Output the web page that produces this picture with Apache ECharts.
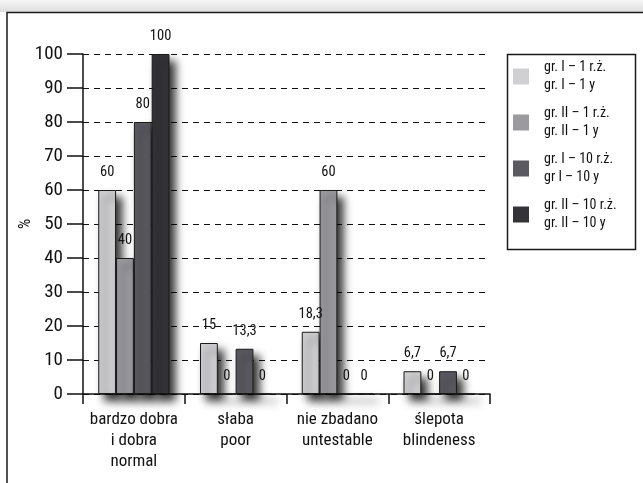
<!DOCTYPE html>
<html>
<head>
<meta charset="utf-8">
<script src="https://cdn.jsdelivr.net/npm/echarts@6/dist/echarts.min.js"></script>
<style>
  html, body { margin: 0; padding: 0; background: #fff; }
  #chart { width: 643px; height: 483px; }
</style>
</head>
<body>
<div id="chart"></div>
<script>
// Visual acuity outcome by group and follow-up time (%)
const categories = [
  'bardzo dobra\ni dobra\nnormal',
  'słaba\npoor',
  'nie zbadano\nuntestable',
  'ślepota\nblindeness'
];
const seriesNames = [
  'gr. I – 1 r.ż.\ngr. I – 1 y',
  'gr. II – 1 r.ż.\ngr. II – 1 y',
  'gr. I – 10 r.ż.\ngr I – 10 y',
  'gr. II – 10 r.ż.\ngr. II – 10 y'
];
const grI_1y   = [60, 15, 18.3, 6.7];
const grII_1y  = [40, 0, 60, 0];
const grI_10y  = [80, 13.3, 0, 6.7];
const grII_10y = [100, 0, 0, 0];
const yMin = 0, yMax = 100, yStep = 10;

const seriesData = [grI_1y, grII_1y, grI_10y, grII_10y];
const barColors = ['#d0d0d2', '#9b9a9f', '#5b5a60', '#343337'];
const FONT = '"Roboto Condensed", "DejaVu Sans Condensed", sans-serif';

const chart = echarts.init(document.getElementById('chart'), null, { renderer: 'canvas' });

const series = seriesData.map((data, i) => ({
  name: seriesNames[i],
  type: 'bar',
  data: data,
  barGap: '0%',
  barCategoryGap: '30%',
  itemStyle: {
    color: barColors[i],
    borderColor: '#1a1a1a',
    borderWidth: 1,
    shadowColor: 'rgba(0,0,0,0.8)',
    shadowBlur: 9,
    shadowOffsetX: 6,
    shadowOffsetY: 7
  },
  label: {
    show: true,
    position: 'top',
    distance: 10,
    fontFamily: FONT,
    fontSize: 14.5,
    color: '#111',
    formatter: p => String(p.value).replace('.', ',')
  },
  emphasis: { disabled: true }
}));

chart.setOption({
  animation: false,
  backgroundColor: '#fff',
  textStyle: { fontFamily: FONT },
  grid: { left: 83, right: 153, top: 54, bottom: 89, containLabel: false, outerBoundsMode: 'none' },
  legend: {
    orient: 'vertical',
    left: 513,
    top: 50,
    padding: 0,
    itemWidth: 16,
    itemHeight: 16,
    itemGap: -7,
    icon: 'rect',
    selectedMode: false,
    itemStyle: { borderWidth: 0, shadowBlur: 0, shadowColor: 'rgba(0,0,0,0)' },
    textStyle: {
      fontFamily: FONT,
      fontSize: 14,
      lineHeight: 18,
      color: '#111',
      padding: [17, 0, 0, 10]
    },
    data: seriesNames
  },
  xAxis: {
    type: 'category',
    data: categories,
    axisLine: { lineStyle: { color: '#111', width: 1.5 } },
    axisTick: { show: true, length: 10, lineStyle: { color: '#111', width: 1.5 } },
    axisLabel: {
      interval: 0,
      margin: 15,
      fontFamily: FONT,
      fontSize: 17,
      lineHeight: 21,
      color: '#111'
    },
    splitLine: { show: false }
  },
  yAxis: {
    type: 'value',
    min: yMin,
    max: yMax,
    interval: yStep,
    name: '%',
    nameLocation: 'middle',
    nameGap: 49,
    nameMoveOverlap: false,
    nameRotate: 90,
    nameTextStyle: { fontFamily: FONT, fontSize: 16, color: '#111' },
    axisLine: { show: true, lineStyle: { color: '#111', width: 1.5 } },
    axisTick: { show: true, length: 16, lineStyle: { color: '#111', width: 1.5 } },
    axisLabel: {
      margin: 20,
      fontFamily: FONT,
      fontSize: 19,
      color: '#111'
    },
    splitLine: {
      show: true,
      lineStyle: { color: '#111', width: 1, type: [6, 5] }
    }
  },
  graphic: [
    {
      type: 'rect',
      silent: true,
      z: -1,
      shape: { x: 0, y: 0, width: 643, height: 12 },
      style: {
        fill: new echarts.graphic.LinearGradient(0, 0, 0, 1, [
          { offset: 0, color: '#f7f7f7' },
          { offset: 1, color: '#dedede' }
        ])
      }
    },
    {
      type: 'rect',
      silent: true,
      shape: { x: 7, y: 12.5, width: 700, height: 600 },
      style: { fill: null, stroke: '#1a1a1a', lineWidth: 1.5 }
    },
    {
      type: 'rect',
      silent: true,
      shape: { x: 507.5, y: 54.5, width: 128, height: 195 },
      style: { fill: null, stroke: '#1a1a1a', lineWidth: 1.5 }
    }
  ],
  series: series
});
</script>
</body>
</html>
